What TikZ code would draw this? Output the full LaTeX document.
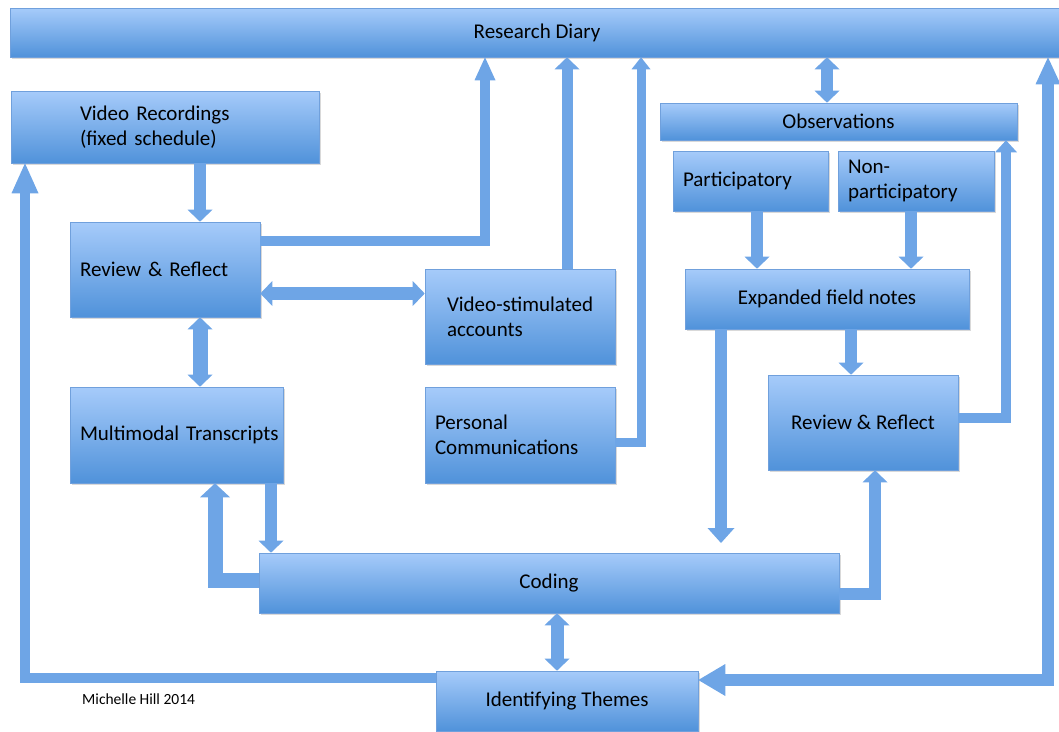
\documentclass[tikz,border=0pt]{standalone}
\usepackage{fontspec}
\setmainfont{Carlito}
\usetikzlibrary{arrows.meta,shadows}

\definecolor{boxtop}{RGB}{166,203,250}
\definecolor{boxbot}{RGB}{80,146,218}
\definecolor{boxline}{RGB}{112,160,220}
\definecolor{arrowblue}{RGB}{110,165,230}

\tikzset{
  box/.style={draw=boxline, line width=0.6pt, top color=boxtop, bottom color=boxbot,
    inner sep=0pt, font=\fontsize{21}{25}\selectfont,
    drop shadow={shadow xshift=1.5pt, shadow yshift=-1.5pt, opacity=.3}},
  flow/.style={draw=arrowblue, line width=12pt, line join=miter},
  blk/.tip={Triangle[width=25pt,length=12pt,line width=0pt]},
  lng/.tip={Triangle[width=25pt,length=27pt,line width=0pt]}
}

\begin{document}
\begin{tikzpicture}[x=1pt,y=-1pt]
                \useasboundingbox (0,0) rectangle (1059,731);
                \node[box, minimum width=1054pt, minimum height=49pt] (diary) at (537,32.5) {Research Diary};
                \node[box, minimum width=308pt, minimum height=72pt, text width=170pt, align=left] (video) at (165,127) {Video Recordings\\(fixed schedule)};
                \node[box, minimum width=190pt, minimum height=95pt, text width=170pt, align=left] (rrl) at (165,269.5) {Review \& Reflect};
                \node[box, minimum width=190pt, minimum height=95pt, text width=146pt, align=left] (vsa) at (520,316.5) {\mbox{Video-stimulated}\\accounts};
                \node[box, minimum width=213pt, minimum height=96pt, text width=193pt, align=left] (mt) at (176.5,435) {\mbox{Multimodal Transcripts}};
                \node[box, minimum width=190pt, minimum height=96pt, text width=170pt, align=left] (pc) at (520,435) {Personal\\Communications};
                \node[box, minimum width=357pt, minimum height=37pt] (obs) at (838.5,121.5) {Observations};
                \node[box, minimum width=155pt, minimum height=60pt, text width=135pt, align=left] (part) at (750.5,181) {Participatory};
                \node[box, minimum width=156pt, minimum height=60pt, text width=136pt, align=left] (nonpart) at (916,181) {Non-\\participatory};
                \node[box, minimum width=284pt, minimum height=60pt] (efn) at (827,299) {Expanded field notes};
                \node[box, minimum width=190pt, minimum height=95pt] (rrr) at (863,422.5) {Review \& Reflect};
                \node[box, minimum width=580pt, minimum height=60pt] (coding) at (549,583) {Coding};
                \node[box, minimum width=262pt, minimum height=60pt] (themes) at (567,701) {Identifying Themes};
                \node[font=\fontsize{15.5}{18}\selectfont, anchor=west, inner sep=0pt] (credit) at (82,699) {Michelle Hill 2014};
                \coordinate (codingstop) at (721,543);

                \draw[flow, -{blk}] (200,0 |- video.south) -- (200,0 |- rrl.north);
                \draw[flow, line width=10pt, -{Triangle[width=21pt,length=23pt,line width=0pt]}] (rrl.east |- 0,241) -| (485,0 |- diary.south);
                \draw[flow, line width=11pt, -{blk}] (567,0 |- vsa.north) -- (567,0 |- diary.south);
                \draw[flow, line width=9pt, -{Triangle[width=19pt,length=12pt,line width=0pt]}] (pc.east |- 0,442) -| (641,0 |- diary.south);
                \draw[flow, {blk}-{blk}] (827,0 |- diary.south) -- (827,0 |- obs.north);
                \draw[flow, line width=10pt, -{Triangle[width=22pt,length=12pt,line width=0pt]}] (rrr.east |- 0,418) -| (1006,0 |- obs.south);
                \draw[flow, {lng}-{Triangle[width=32pt,length=27pt,line width=0pt]}] (1048,0 |- diary.south) |- (themes.east |- 0,680);
                \draw[flow, line width=10pt, -{Triangle[width=27pt,length=30pt,line width=0pt]}] (themes.west |- 0,678) -| (25,0 |- video.south);
                \draw[flow, line width=13pt, {blk}-{blk}] (rrl.east |- 0,293.5) -- (vsa.west |- 0,293.5);
                \draw[flow, line width=15pt, {blk}-{blk}] (200,0 |- rrl.south) -- (200,0 |- mt.north);
                \draw[flow, line width=15pt, -{Triangle[width=30pt,length=14pt,line width=0pt]}] (coding.west |- 0,580) -| (215,0 |- mt.south);
                \draw[flow, -{blk}] (271,0 |- mt.south) -- (271,0 |- coding.north);
                \draw[flow, -{Triangle[width=27pt,length=15pt,line width=0pt]}] (721,0 |- efn.south) -- (codingstop);
                \draw[flow, -{blk}] (coding.east |- 0,594) -| (875,0 |- rrr.south);
                \draw[flow, -{blk}] (757,0 |- part.south) -- (757,0 |- efn.north);
                \draw[flow, -{blk}] (911,0 |- nonpart.south) -- (911,0 |- efn.north);
                \draw[flow, -{blk}] (851,0 |- efn.south) -- (851,0 |- rrr.north);
                \draw[flow, line width=13pt, {blk}-{blk}] (557,0 |- coding.south) -- (557,0 |- themes.north);
\end{tikzpicture}
\end{document}
